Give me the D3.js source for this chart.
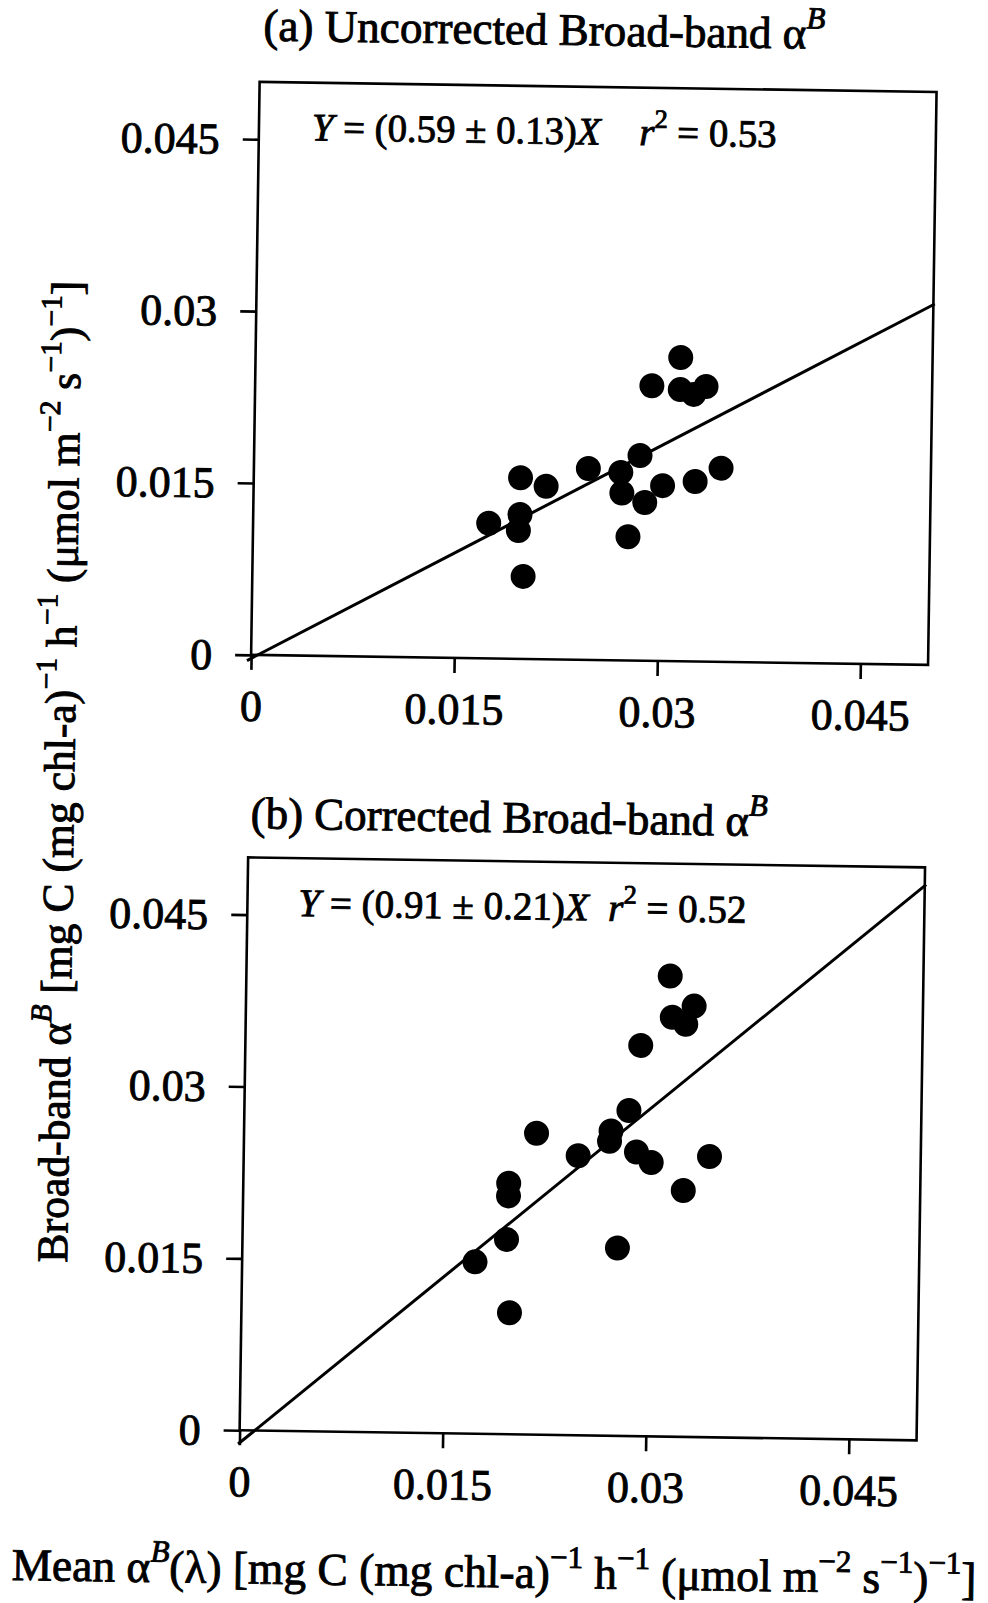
<!DOCTYPE html>
<html>
<head>
<meta charset="utf-8">
<script src="https://cdn.jsdelivr.net/npm/d3@7"></script>
<style>
  body { margin: 0; background: #fff; }
  svg text { font-family: "Liberation Serif", "Times New Roman", serif; fill: #000; stroke: #000; stroke-width: 0.9px; white-space: pre; }
</style>
</head>
<body>
<div id="chart"></div>
<script>
// (a) uncorrected broad-band alpha^B against mean alpha^B(lambda)
const xUncorr = [0.0314, 0.0293, 0.0314, 0.0324, 0.0333, 0.0285, 0.0247, 0.0271, 0.0272, 0.0302,
                 0.0326, 0.0345, 0.0289, 0.0197, 0.0216, 0.0174, 0.0197, 0.0196, 0.0200, 0.0277];
const yUncorr = [0.0265, 0.0240, 0.0237, 0.0233, 0.0240, 0.0179, 0.0167, 0.0164, 0.0146, 0.0153,
                 0.0157, 0.0169, 0.0138, 0.0158, 0.0151, 0.0118, 0.0126, 0.0112, 0.0072, 0.0108];

// (b) corrected broad-band alpha^B
const xCorr = [0.0313, 0.0331, 0.0315, 0.0325, 0.0292, 0.0284, 0.0216, 0.0271, 0.0270, 0.0247,
               0.0290, 0.0301, 0.0344, 0.0196, 0.0196, 0.0325, 0.0195, 0.0172, 0.0277, 0.0198];
const yCorr = [0.0402, 0.0376, 0.0366, 0.0360, 0.0341, 0.0284, 0.0263, 0.0266, 0.0257, 0.0244,
               0.0248, 0.0239, 0.0245, 0.0219, 0.0208, 0.0215, 0.0170, 0.0150, 0.0164, 0.0106];

// regression lines, end points as drawn
const fitUncorrX = [-0.0003, 0.0501];
const fitUncorrY = [-0.0005, 0.0315];
const fitCorrX = [-0.0001, 0.0501];
const fitCorrY = [-0.0012, 0.0485];

const tickValues = [0, 0.015, 0.03, 0.045];
const tickLabels = ["0", "0.015", "0.03", "0.045"];
const axisMax = 0.05;

// text pieces: [string, style]  i = italic, s = superscript
const titleUncorr = [["(a) Uncorrected Broad-band α"], ["B", "si"]];
const titleCorr = [["(b) Corrected Broad-band α"], ["B", "si"]];
const eqUncorr = [["Y", "i"], [" = (0.59 ± 0.13)"], ["X", "i"], ["    "], ["r", "i"], ["2", "s"], [" = 0.53"]];
const eqCorr = [["Y", "i"], [" = (0.91 ± 0.21)"], ["X", "i"], ["  "], ["r", "i"], ["2", "s"], [" = 0.52"]];
const xTitle = [["Mean α"], ["B", "si"], ["(λ) [mg C (mg chl-a)"], ["−1", "s"], [" h"], ["−1", "s"],
                [" (μmol m"], ["−2", "s"], [" s"], ["−1", "s"], [")"], ["−1", "s"], ["]"]];
const yTitle = [["Broad-band α"], ["B", "si"], [" [mg C (mg chl-a)"], ["−1", "s"], [" h"], ["−1", "s"],
                [" (μmol m"], ["−2", "s"], [" s"], ["−1", "s"], [")"], ["−1", "s"], ["]"]];

const outerWidth = 988, outerHeight = 1603;
const left = 249, W = 677, H = 573;

const svg = d3.select("#chart").append("svg")
    .attr("width", outerWidth)
    .attr("height", outerHeight);

// the scanned page sits slightly skewed
const root = svg.append("g").attr("transform", "rotate(0.85, 494, 800)");

function rich(sel, parts, size) {
    const t = sel.append("text").attr("font-size", size);
    let raised = false;
    parts.forEach(([s, st]) => {
        const sp = t.append("tspan").text(s);
        const sup = !!st && st.includes("s");
        if (st && st.includes("i")) sp.attr("font-style", "italic");
        if (sup && !raised) { sp.attr("dy", -0.45 * size); raised = true; }
        else if (!sup && raised) { sp.attr("dy", 0.45 * size); raised = false; }
        if (sup) sp.attr("font-size", 0.68 * size);
    });
    return t;
}

// draw text then rescale it so it spans the width seen in the figure
function fitText(sel, parts, size, width) {
    let t = rich(sel, parts, size);
    const w = t.node().getBBox().width;
    t.remove();
    return rich(sel, parts, size * width / w);
}

function panel(top, xs, ys, fitX, fitY, title, titlePos, eq, eqPos) {

    const x = d3.scaleLinear().domain([0, axisMax]).range([0, W]);
    const y = d3.scaleLinear().domain([0, axisMax]).range([H, 0]);

    const g = root.append("g").attr("transform", `translate(${left}, ${top})`);

    const xAxis = d3.axisBottom(x).tickValues(tickValues)
        .tickFormat((d, i) => tickLabels[i]).tickSize(15).tickPadding(0);
    const yAxis = d3.axisLeft(y).tickValues(tickValues)
        .tickFormat((d, i) => tickLabels[i]).tickSize(16).tickPadding(23);

    g.append("g")
        .attr("transform", `translate(0, ${H})`)
        .call(xAxis)
        .call(a => a.select(".domain").remove())
        .call(a => a.selectAll("line").attr("stroke-width", 2.6))
        .call(a => a.selectAll("text").attr("y", 66).attr("dy", null))
        .attr("font-size", 44).attr("font-family", null);

    g.append("g")
        .call(yAxis)
        .call(a => a.select(".domain").remove())
        .call(a => a.selectAll("line").attr("stroke-width", 2.6))
        .call(a => a.selectAll("text").attr("dy", "0.33em"))
        .attr("font-size", 44).attr("font-family", null);

    g.append("rect")
        .attr("width", W).attr("height", H)
        .attr("fill", "none").attr("stroke", "#000").attr("stroke-width", 2.6);

    const line = d3.line().x(d => x(d[0])).y(d => y(d[1]));
    g.append("path")
        .attr("d", line(d3.zip(fitX, fitY)))
        .attr("fill", "none").attr("stroke", "#000").attr("stroke-width", 3);

    g.selectAll("circle.pt")
        .data(d3.zip(xs, ys))
        .join("circle")
        .attr("class", "pt")
        .attr("cx", d => x(d[0]))
        .attr("cy", d => y(d[1]))
        .attr("r", 12.5)
        .attr("fill", "#000");

    fitText(root, title, 44, titlePos[2]).attr("x", titlePos[0]).attr("y", titlePos[1]);
    fitText(root, eq, 40, eqPos[2]).attr("x", eqPos[0]).attr("y", eqPos[1]);
}

panel(85.5, xUncorr, yUncorr, fitUncorrX, fitUncorrY, titleUncorr, [252, 44, 562], eqUncorr, [302, 143, 465]);
panel(861, xCorr, yCorr, fitCorrX, fitCorrY, titleCorr, [251, 832, 517], eqCorr, [300, 919, 448]);

fitText(root, xTitle, 44, 965).attr("x", 23).attr("y", 1587);
fitText(root, yTitle, 44, 982)
    .attr("text-anchor", "middle")
    .attr("transform", "translate(74, 778) rotate(-90)");
</script>
</body>
</html>
